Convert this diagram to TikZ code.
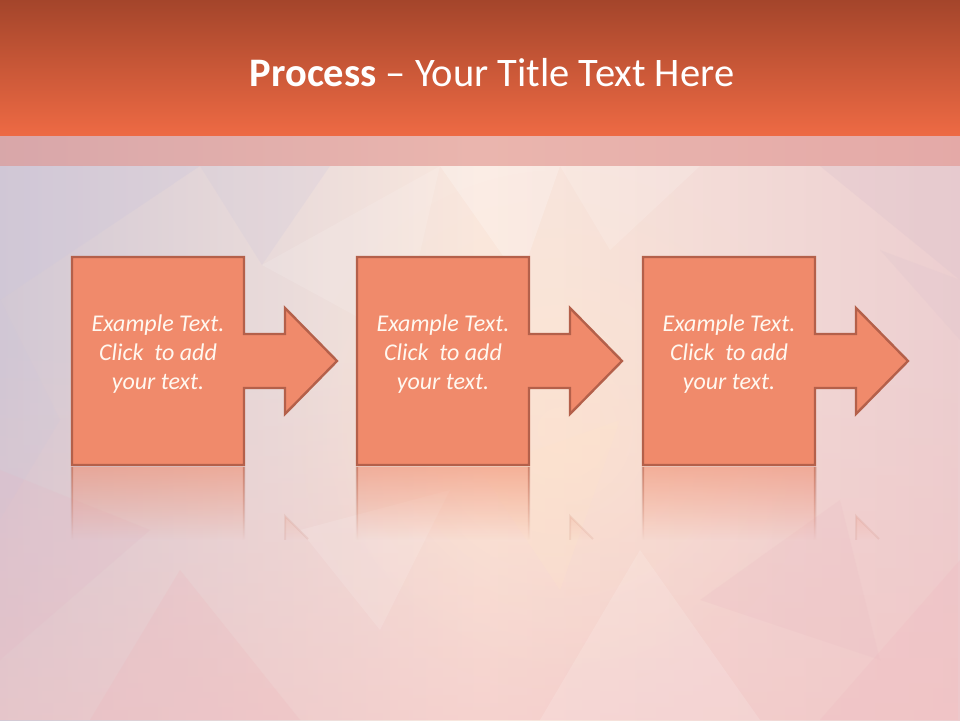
\documentclass[tikz,border=0pt]{standalone}
\usepackage{fontspec}
\setmainfont{Carlito}
\usetikzlibrary{fadings}
\definecolor{hdrtop}{RGB}{164,69,43}
\definecolor{hdrbot}{RGB}{238,106,68}
\definecolor{boxfill}{RGB}{240,138,107}
\definecolor{boxline}{RGB}{180,96,74}
\definecolor{bgL}{RGB}{210,200,212}
\definecolor{bgM}{RGB}{250,232,222}
\definecolor{bgR}{RGB}{236,206,208}
\definecolor{bgpink}{RGB}{243,196,196}
\definecolor{bgpeach}{RGB}{255,228,204}
\definecolor{band}{RGB}{222,140,135}
\definecolor{txt}{RGB}{255,248,240}
\definecolor{lav}{RGB}{205,198,220}
\definecolor{fgrey}{RGB}{222,196,206}
\definecolor{fpinkA}{RGB}{226,186,200}
\definecolor{fpinkB}{RGB}{238,180,186}
\definecolor{fpinkC}{RGB}{240,188,194}
\definecolor{fpinkD}{RGB}{236,190,196}
\tikzfading[name=fadedown, top color=transparent!45, bottom color=transparent!100]
\tikzfading[name=fadeup, top color=transparent!100, bottom color=transparent!0]
\tikzfading[name=glow, inner color=transparent!0, outer color=transparent!100]
\tikzset{
  stepfill/.style={fill=boxfill, draw=boxline, line width=2.4pt, line join=miter},
  procshape/.pic={
    \path[#1] (-86,104) -- (86,104) -- (86,27) -- (127,27) -- (127,53) -- (179,0)
      -- (127,-53) -- (127,-27) -- (86,-27) -- (86,-104) -- (-86,-104) -- cycle;
  },
  steptext/.style={font=\fontsize{24}{29}\selectfont\itshape, text=txt, align=center, inner sep=0pt},
  facet/.style={fill=#1, draw=none},
  refledge/.style={fill=boxline, even odd rule, path fading=fadedown},
}
\begin{document}
\begin{tikzpicture}[x=1pt,y=1pt]
\useasboundingbox (0,0) rectangle (960,720);
% background
\shade[left color=bgL, right color=bgR, middle color=bgM] (0,0) rectangle (960,584);
\fill[bgpink, opacity=0.6, path fading=fadeup] (0,0) rectangle (960,380);
\fill[bgpeach, opacity=0.55, path fading=glow] (560,290) circle (260);
% facets
\fill[facet=white, opacity=0.22] (440,554) -- (560,554) -- (520,440) -- cycle;
\fill[facet=white, opacity=0.15] (560,554) -- (700,554) -- (610,470) -- cycle;
\fill[facet=lav, opacity=0.30] (0,554) -- (200,554) -- (0,420) -- cycle;
\fill[facet=lav, opacity=0.22] (200,554) -- (330,554) -- (262,455) -- cycle;
\fill[facet=lav, opacity=0.18] (0,420) -- (60,300) -- (0,200) -- cycle;
\fill[facet=white, opacity=0.12] (262,455) -- (440,554) -- (400,380) -- cycle;
\fill[facet=fgrey, opacity=0.35] (820,554) -- (960,554) -- (960,440) -- cycle;
\fill[facet=fgrey, opacity=0.25] (880,470) -- (960,440) -- (960,380) -- cycle;
\fill[facet=fpinkA, opacity=0.25] (0,250) -- (150,190) -- (0,60) -- cycle;
\fill[facet=fpinkB, opacity=0.22] (90,0) -- (300,0) -- (180,150) -- cycle;
\fill[facet=white, opacity=0.14] (540,0) -- (760,0) -- (640,170) -- cycle;
\fill[facet=fpinkC, opacity=0.30] (820,0) -- (960,0) -- (960,160) -- cycle;
\fill[facet=white, opacity=0.12] (300,190) -- (450,230) -- (380,90) -- cycle;
\fill[facet=bgpeach, opacity=0.25] (480,250) -- (620,300) -- (560,130) -- cycle;
\fill[facet=fpinkD, opacity=0.25] (700,120) -- (840,220) -- (880,60) -- cycle;
% header
\shade[top color=hdrtop, bottom color=hdrbot] (0,584) rectangle (960,720);
\fill[band, opacity=0.55] (0,554) rectangle (960,584);
\node[anchor=base, text=white, font=\fontsize{40.5}{48}\selectfont, inner sep=0pt] (title) at (492,633)
  {\textbf{Process} – Your Title Text Here};
% steps
\foreach \i/\cx in {1/158, 2/443, 3/729} {
  \coordinate (c\i) at (\cx,359);
  \coordinate (r\i) at (\cx,151);
  % reflection
  \begin{scope}
    \clip (\cx-86,253) -- (\cx+86,253) -- (\cx+86,178) -- (\cx+127,178) -- (\cx+127,204)
      -- (\cx+179,151) -- (\cx+127,98) -- (\cx-86,98) -- cycle;
    \fill[boxfill, path fading=fadedown] (\cx-88,253) rectangle (\cx+182,180);
  \end{scope}
  \path[refledge] (\cx-87.2,253) rectangle (\cx+87.2,180)
                  (\cx-84.8,253) rectangle (\cx+84.8,180);
  \draw[boxline, line width=2pt, opacity=0.10] (\cx+127,180) -- (\cx+127,204) -- (\cx+150,181);
  % shape
  \pic at (c\i) {procshape=stepfill};
  \node[steptext] (t\i) at (\cx,366) {Example Text.\\Click\ \ to add\\your text.};
}
\end{tikzpicture}
\end{document}
